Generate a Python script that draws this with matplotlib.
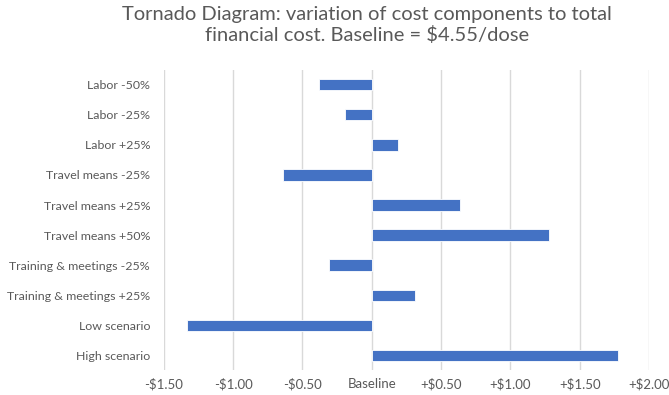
import matplotlib.pyplot as plt

# Data
labels = ['Labor -50%', 'Labor -25%', 'Labor +25%', 'Travel means -25%',
          'Travel means +25%', 'Travel means +50%', 'Training & meetings -25%',
          'Training & meetings +25%', 'Low scenario', 'High scenario']
changes = [-0.38, -0.19, 0.19, -0.64, 0.64, 1.28, -0.31, 0.31, -1.33, 1.78]
tick_values = [-1.5, -1.0, -0.5, 0.0, 0.5, 1.0, 1.5, 2.0]
tick_labels = ['-$1.50', '-$1.00', '-$0.50', 'Baseline', '+$0.50', '+$1.00', '+$1.50', '+$2.00']

plt.rcParams['font.family'] = ['Lato', 'DejaVu Sans']

fig = plt.figure(figsize=(6.69, 3.95), dpi=100)
ax = fig.add_axes([0.245, 0.063, 0.725, 0.76])

ypos = list(range(len(labels)))
ax.barh(ypos, changes, height=0.37, color='#4472C4', edgecolor='white', linewidth=0.6, zorder=3)

ax.set_xlim(-1.5, 2.0)
ax.set_ylim(len(labels) - 0.5, -0.5)
ax.set_xticks(tick_values)
ax.set_xticklabels(tick_labels)
ax.set_yticks(ypos)
ax.set_yticklabels(labels)

ax.grid(axis='x', color='#d9d9d9', linewidth=1, zorder=0)
for s in ax.spines.values():
    s.set_visible(False)
ax.tick_params(axis='both', length=0, colors='#595959')
ax.tick_params(axis='x', labelsize=9.5, pad=6)
ax.tick_params(axis='y', labelsize=8.9, pad=10)

fig.suptitle('Tornado Diagram: variation of cost components to total\nfinancial cost. Baseline = $4.55/dose',
             fontsize=14.5, color='#595959', y=0.985, x=0.548)

plt.savefig('out.png', dpi=100)
